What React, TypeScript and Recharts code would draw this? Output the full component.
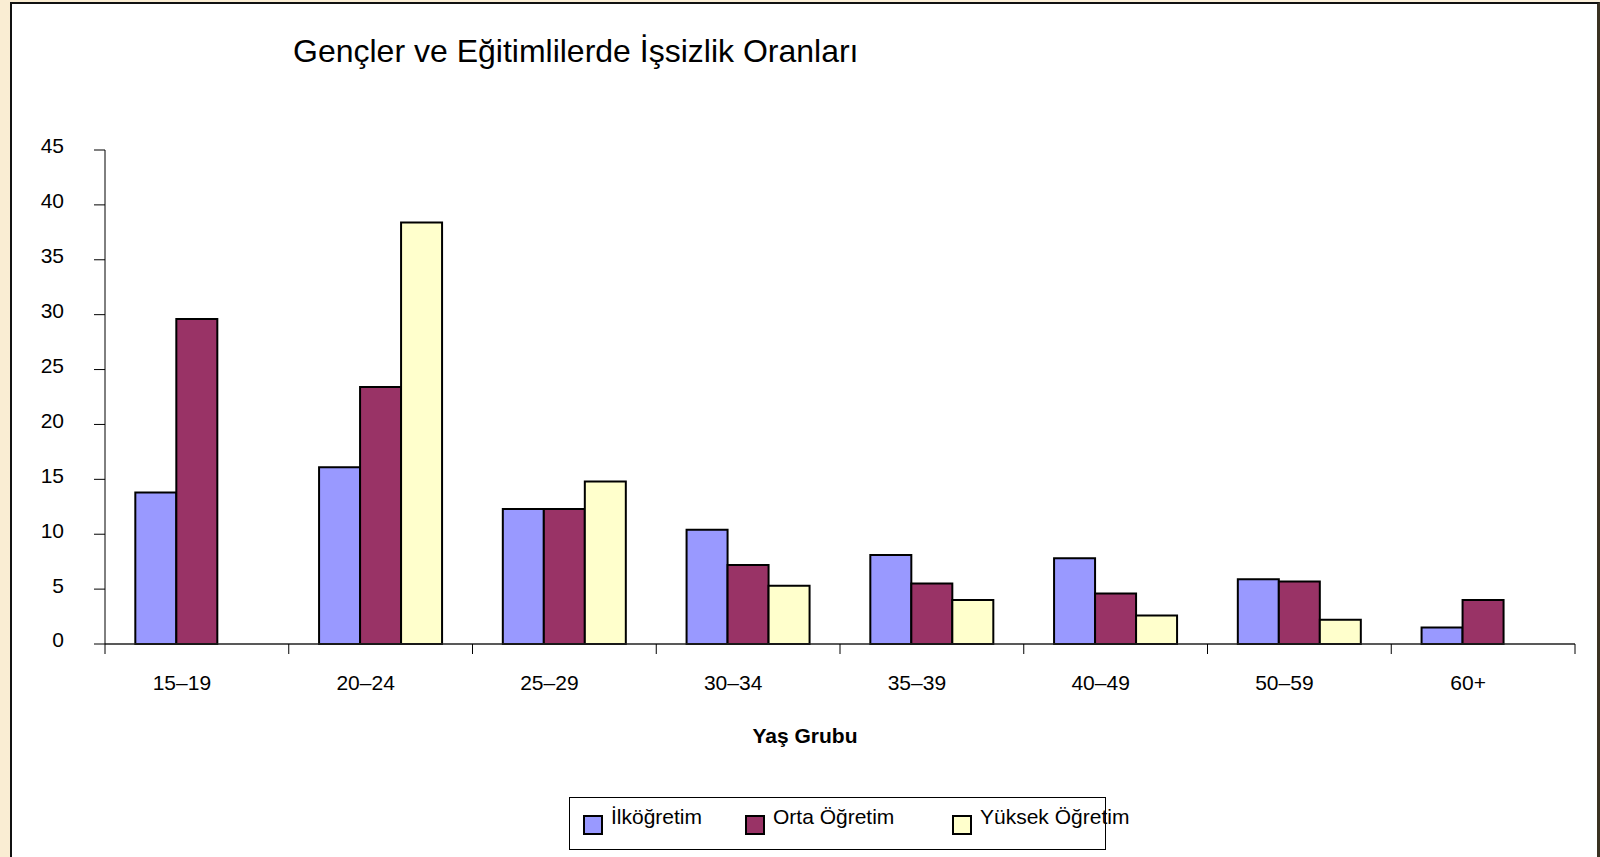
import React from 'react';
import { BarChart, Bar, XAxis, YAxis } from 'recharts';

const categories = ['15–19', '20–24', '25–29', '30–34', '35–39', '40–49', '50–59', '60+'];
const ilkogretim = [13.8, 16.1, 12.3, 10.4, 8.1, 7.8, 5.9, 1.5];
const ortaOgretim = [29.6, 23.4, 12.3, 7.2, 5.5, 4.6, 5.7, 4.0];
const yuksekOgretim = [null, 38.4, 14.8, 5.3, 4.0, 2.6, 2.2, null];
const yTicks = [0, 5, 10, 15, 20, 25, 30, 35, 40, 45];

const series = [
  { key: 'ilk', name: 'İlköğretim', color: '#9999FF' },
  { key: 'orta', name: 'Orta Öğretim', color: '#993366' },
  { key: 'yuksek', name: 'Yüksek Öğretim', color: '#FFFFCC' },
];

const data = categories.map((grup, i) => ({
  grup,
  ilk: ilkogretim[i],
  orta: ortaOgretim[i],
  yuksek: yuksekOgretim[i],
}));

const FONT = '"Liberation Sans", Arial, sans-serif';
const PLOT_LEFT = 105;
const PLOT_RIGHT = 1575;
const BAND = (PLOT_RIGHT - PLOT_LEFT) / categories.length;

const XTick = (props: any) => {
  const { x, y, payload, index } = props;
  const half = payload && payload.offset > 0 ? payload.offset : BAND / 2;
  const last = index === categories.length - 1;
  return (
    <g>
      <line x1={x - half} x2={x - half} y1={y - 10} y2={y} stroke="#000" />
      {last && <line x1={x + half} x2={x + half} y1={y - 10} y2={y} stroke="#000" />}
      <text x={x - 15} y={y + 36} textAnchor="middle" fontSize={21} fontFamily={FONT} fill="#000">
        {payload.value}
      </text>
    </g>
  );
};

const YTick = (props: any) => {
  const { x, y, payload } = props;
  return (
    <text x={x} y={y - 4} dy="0.355em" textAnchor="end" fontSize={21} fontFamily={FONT} fill="#000">
      {payload.value}
    </text>
  );
};

export default function App() {
  return (
    <div
      style={{
        position: 'absolute',
        left: 0,
        top: 0,
        width: 1600,
        height: 857,
        overflow: 'hidden',
        background: 'linear-gradient(90deg, #FAEDD3 0%, #FCF1DC 100%)',
        fontFamily: FONT,
      }}
    >
      <div
        style={{
          position: 'absolute',
          left: 10,
          top: 2,
          width: 1585,
          height: 900,
          background: '#fff',
          borderLeft: '2px solid #111',
          borderTop: '2px solid #111',
          borderRight: '3px solid #3a3222',
        }}
      />
      <div
        style={{
          position: 'absolute',
          left: 293,
          top: 35,
          fontSize: 32,
          lineHeight: 1,
          color: '#000',
          whiteSpace: 'nowrap',
        }}
      >
        Gençler ve Eğitimlilerde İşsizlik Oranları
      </div>
      <div style={{ position: 'absolute', left: 0, top: 0 }}>
        <BarChart
          width={1600}
          height={857}
          data={data}
          margin={{ top: 150, right: 25, bottom: 173, left: 0 }}
          barCategoryGap="16.5%"
          barGap={0}
        >
          <XAxis
            dataKey="grup"
            height={40}
            tickSize={10}
            tickMargin={0}
            tickLine={false}
            interval={0}
            axisLine={{ stroke: '#222', strokeWidth: 1.5 }}
            tick={<XTick />}
          />
          <XAxis
            xAxisId="top"
            dataKey="grup"
            orientation="top"
            height={0}
            tick={false}
            tickLine={false}
            axisLine={{ stroke: '#000' }}
          />
          <YAxis
            width={PLOT_LEFT}
            domain={[0, 45]}
            ticks={yTicks}
            interval={0}
            tickSize={11}
            tickMargin={30}
            tickLine={{ stroke: '#000' }}
            axisLine={{ stroke: '#000' }}
            tick={<YTick />}
          />
          <YAxis
            yAxisId="right"
            orientation="right"
            width={0}
            tick={false}
            tickLine={false}
            axisLine={{ stroke: '#000' }}
          />
          {series.map((s) => (
            <Bar
              key={s.key}
              dataKey={s.key}
              name={s.name}
              fill={s.color}
              stroke="#000"
              strokeWidth={2}
              isAnimationActive={false}
            />
          ))}
        </BarChart>
      </div>
      <div
        style={{
          position: 'absolute',
          left: 705,
          top: 725,
          width: 200,
          textAlign: 'center',
          fontSize: 21,
          fontWeight: 'bold',
          lineHeight: 1,
          color: '#000',
        }}
      >
        Yaş Grubu
      </div>
      <div
        style={{
          position: 'absolute',
          left: 569,
          top: 797,
          width: 537,
          height: 53,
          border: '1px solid #000',
          boxSizing: 'border-box',
        }}
      />
      {series.map((s, i) => {
        const lefts = [583, 745, 952];
        return (
          <div
            key={s.key}
            style={{ position: 'absolute', left: lefts[i], top: 806, display: 'flex', whiteSpace: 'nowrap' }}
          >
            <div
              style={{
                width: 16,
                height: 16,
                marginTop: 9,
                background: s.color,
                border: '2px solid #000',
              }}
            />
            <span style={{ marginLeft: 8, fontSize: 21, lineHeight: 1, color: '#000' }}>{s.name}</span>
          </div>
        );
      })}
    </div>
  );
}
